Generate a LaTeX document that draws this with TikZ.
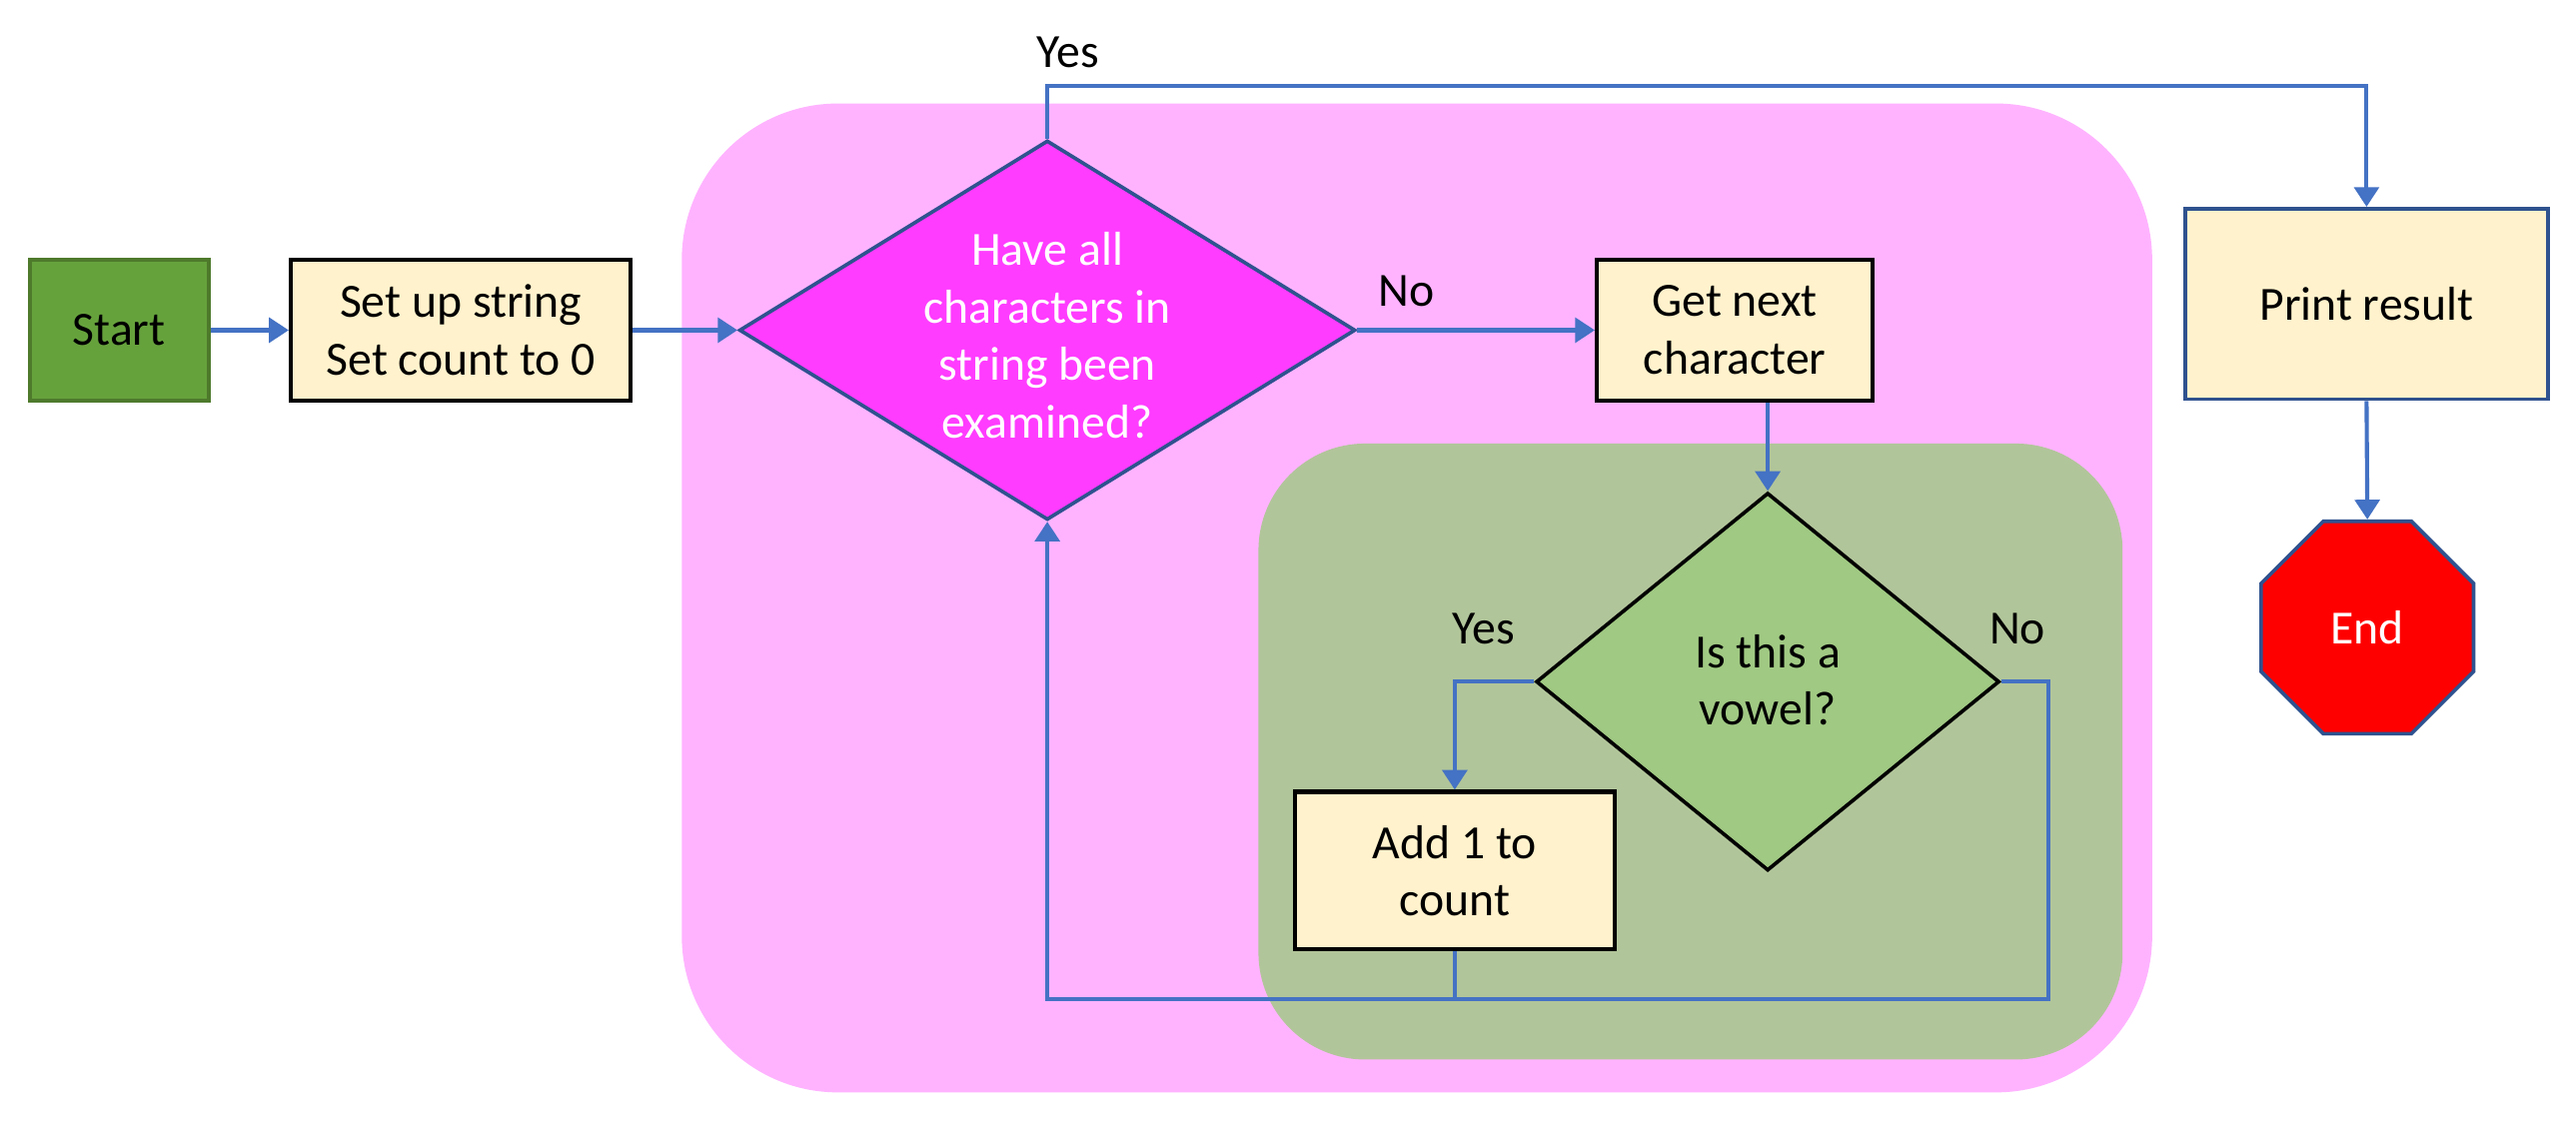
\documentclass[tikz,border=0pt]{standalone}
\usepackage{fontspec}
\setmainfont{Carlito}
\usetikzlibrary{shapes.geometric,arrows.meta,calc}
\definecolor{connc}{HTML}{4472C4}
\definecolor{dblue}{HTML}{2F528F}
\definecolor{boxc}{HTML}{FFF2CC}
\definecolor{pinkc}{HTML}{FFB3FF}
\definecolor{magc}{HTML}{FF3CFF}
\definecolor{olivec}{HTML}{B1C59A}
\definecolor{greenc}{HTML}{A0C983}
\definecolor{startc}{HTML}{66A23C}
\definecolor{startb}{HTML}{4E7A2C}
\begin{document}
\begin{tikzpicture}[x=1pt,y=-1pt,
  txt/.style={font=\fontsize{29}{35}\selectfont, align=center},
  conn/.style={draw=connc, line width=2.5pt, -{Triangle[length=12pt,width=15pt]}},
  plainline/.style={draw=connc, line width=2.5pt},
  procbox/.style={rectangle, draw=black, line width=2.5pt, fill=boxc, inner sep=0pt, txt},
  lbl/.style={txt, inner sep=0pt}]
\useasboundingbox (0,0) rectangle (1568,687);
% containers
\node[fill=pinkc, rounded corners=95pt, minimum width=895pt, minimum height=602pt, inner sep=0pt] (loop) at (862.5,364) {};
\node[fill=olivec, rounded corners=65pt, minimum width=526pt, minimum height=375pt, inner sep=0pt] (inner) at (1029,457.5) {};
% nodes
\node[rectangle, draw=startb, line width=2.5pt, fill=startc, minimum width=109pt, minimum height=86pt, inner sep=0pt, txt] (start) at (72.5,201) {Start};
\node[procbox, minimum width=207pt, minimum height=86pt] (setup) at (280.5,201) {Set up string\\Set count to 0};
\node[diamond, draw=dblue, fill=magc, line width=2.2pt, minimum width=375pt, minimum height=231pt, inner sep=0pt] (d1) at (637.5,201) {};
\node[txt, text=white] (d1t) at (637.5,204) {Have all\\characters in\\string been\\examined?};
\node[procbox, minimum width=168pt, minimum height=86pt] (getnext) at (1056,201) {Get next\\character};
\node[diamond, draw=black, fill=greenc, line width=2.2pt, minimum width=282pt, minimum height=230pt, inner sep=0pt] (d2) at (1076,415) {};
\node[txt] (d2t) at (1076,414) {Is this a\\vowel?};
\node[procbox, minimum width=195pt, minimum height=96pt] (add) at (885.5,530) {Add 1 to\\count};
\node[rectangle, draw=dblue, line width=2.2pt, fill=boxc, minimum width=221pt, minimum height=116pt, inner sep=0pt, txt] (print) at (1440.5,185) {Print result};
\node[regular polygon, regular polygon sides=8, draw=dblue, line width=2.2pt, fill=red, minimum size=140pt, inner sep=0pt, text=white, txt] (end) at (1441,382) {End};
% labels
\node[lbl] (l1) at (650,32) {Yes};
\node[lbl] (l2) at (856,177) {No};
\node[lbl] (l3) at (903,383) {Yes};
\node[lbl] (l4) at (1228,383) {No};
% connectors
\coordinate (jn) at ($(add.south)+(0,29)$);
\draw[conn] (start) -- (setup);
\draw[conn] (setup.east) -- (d1.west);
\draw[conn] (d1.east) -- (getnext.west);
\draw[conn] (getnext.south -| d2.north) -- (d2.north);
\draw[conn] (d2.west) -| (add.north);
\draw[plainline] (add.south) -- (jn);
\draw[plainline] (d2.east) -- ++(29,0) |- (jn);
\draw[conn] (jn) -- (jn -| d1.south) -- (d1.south);
\draw[conn] (d1.north) -- ++(0,-32) -| (print.north);
\draw[conn] (print.south) -- (end.north);
\end{tikzpicture}
\end{document}
